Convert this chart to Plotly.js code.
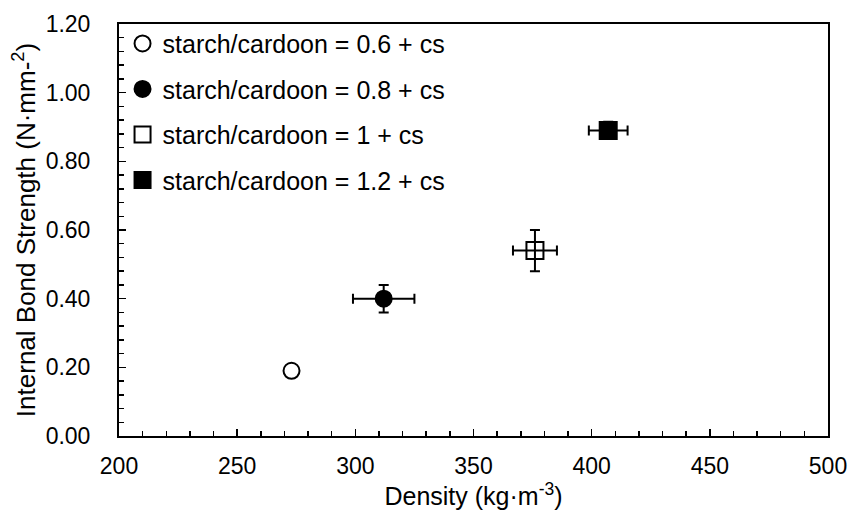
<!DOCTYPE html>
<html>
<head>
<meta charset="utf-8">
<script src="https://cdn.plot.ly/plotly-3.0.1.min.js"></script>
<style>html,body{margin:0;padding:0;background:#fff;}#chart{width:850px;height:520px;}</style>
</head>
<body>
<div id="chart"></div>
<script>
const seriesNames = ["starch/cardoon = 0.6 + cs", "starch/cardoon = 0.8 + cs", "starch/cardoon = 1 + cs", "starch/cardoon = 1.2 + cs"];
const density = [273, 312, 376, 407];
const densityErr = [0, 13, 9.3, 8.2];
const strength = [0.19, 0.40, 0.54, 0.89];
const strengthErr = [0, 0.04, 0.06, 0.025];
const symbols = ["circle-open", "circle", "square-open", "square"];
const sizes = [16, 16, 17, 17];

const FAM = "Liberation Sans, Arial, sans-serif";

const traces = seriesNames.map((name, i) => ({
  type: "scatter",
  mode: "markers",
  name: name,
  legendgroup: "g" + i,
  x: [density[i]],
  y: [strength[i]],
  error_x: {type: "data", array: [densityErr[i]], visible: densityErr[i] > 0, color: "#000", thickness: 2, width: 5},
  error_y: {type: "data", array: [strengthErr[i]], visible: strengthErr[i] > 0, color: "#000", thickness: 2, width: 5},
  marker: {symbol: symbols[i], size: sizes[i], color: "#000", line: {color: "#000", width: 2}}
}));

const layout = {
  width: 850, height: 520,
  margin: {l: 119, r: 22, t: 24, b: 84},
  paper_bgcolor: "#fff", plot_bgcolor: "#fff",
  font: {family: FAM, size: 23, color: "#000"},
  showlegend: true,
  legend: {x: 0.005, y: 1.008, xanchor: "left", yanchor: "top", bgcolor: "rgba(0,0,0,0)",
           font: {family: FAM, size: 25, color: "#000"}, traceorder: "grouped", tracegroupgap: 10, itemwidth: 30},
  xaxis: {
    range: [200, 500], dtick: 50, tick0: 200, showgrid: false, zeroline: false,
    showline: true, linecolor: "#000", linewidth: 2, mirror: true,
    ticks: "inside", ticklen: 7, tickwidth: 1.5, tickcolor: "#000",
    minor: {dtick: 10, ticks: "inside", ticklen: 5, tickwidth: 1.5, tickcolor: "#000", showgrid: false},
    tickfont: {family: FAM, size: 23, color: "#000"}, ticklabelstandoff: 8,
    title: {text: "Density (kg·m<sup>-3</sup>)", font: {family: FAM, size: 25, color: "#000"}, standoff: 6}
  },
  yaxis: {
    range: [0, 1.2], dtick: 0.2, tick0: 0, tickformat: ".2f", showgrid: false, zeroline: false,
    showline: true, linecolor: "#000", linewidth: 2, mirror: true,
    ticks: "inside", ticklen: 7, tickwidth: 1.5, tickcolor: "#000",
    minor: {dtick: 0.04, ticks: "inside", ticklen: 5, tickwidth: 1.5, tickcolor: "#000", showgrid: false},
    tickfont: {family: FAM, size: 23, color: "#000"}, ticklabelstandoff: 22,
    title: {text: "Internal Bond Strength (N·mm-<sup>2</sup>)", font: {family: FAM, size: 26, color: "#000"}, standoff: 3}
  }
};

Plotly.newPlot("chart", traces, layout, {displayModeBar: false, staticPlot: true});
</script>
</body>
</html>
